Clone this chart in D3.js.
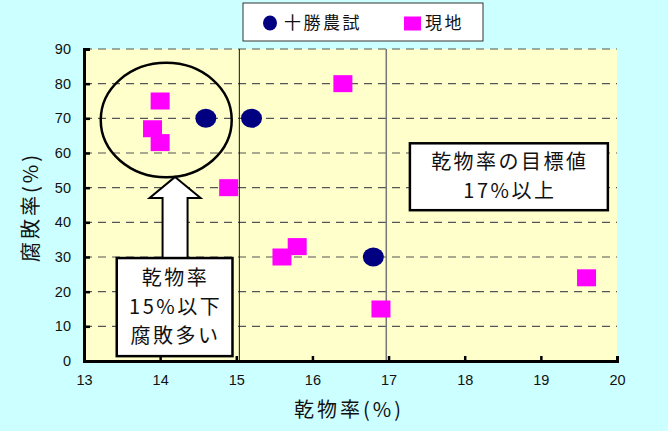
<!DOCTYPE html>
<html>
<head>
<meta charset="utf-8">
<script src="https://cdn.jsdelivr.net/npm/d3@7"></script>
<style>
  body { margin: 0; background: #ccffff; }
  svg { display: block; }
  text { font-family: "Liberation Sans", Arial, sans-serif; fill: #111; }
  .jp { font-family: "Noto Sans CJK JP", sans-serif; }
</style>
</head>
<body>
<svg id="chart" width="668" height="431"></svg>
<script>
const WIDTH = 668, HEIGHT = 431;

// series
const tokachiX = [14.6, 15.2, 16.8];
const tokachiY = [70, 70, 30];
const genchiX = [14.0, 13.9, 14.0, 14.9, 16.4, 15.8, 15.6, 16.9, 19.6];
const genchiY = [75, 67, 63, 50, 80, 33, 30, 15, 24];

const seriesNames = ["十勝農試", "現地"];
const xTicks = [13, 14, 15, 16, 17, 18, 19, 20];
const yTicks = [0, 10, 20, 30, 40, 50, 60, 70, 80, 90];
const refLines = [15.04, 16.97];

const svg = d3.select("#chart");

const x = d3.scaleLinear().domain([13, 20]).range([84, 617]);
const y = d3.scaleLinear().domain([0, 90]).range([361, 49]);

svg.append("rect").attr("width", WIDTH).attr("height", HEIGHT).attr("fill", "#ccffff");

// plot area
svg.append("rect")
  .attr("x", x(13)).attr("y", y(90))
  .attr("width", x(20) - x(13)).attr("height", y(0) - y(90))
  .attr("fill", "#ffffcc");

// dashed grid
svg.append("g").selectAll("line")
  .data(yTicks.filter(d => d > 0))
  .join("line")
  .attr("x1", x(13)).attr("x2", x(20))
  .attr("y1", d => y(d)).attr("y2", d => y(d))
  .attr("stroke", "#555").attr("stroke-width", 1.2)
  .attr("stroke-dasharray", "8,6");

// reference lines (15% and 17%)
svg.append("g").selectAll("line")
  .data(refLines)
  .join("line")
  .attr("x1", d => x(d)).attr("x2", d => x(d))
  .attr("y1", y(90)).attr("y2", y(0))
  .attr("stroke", (d, i) => i === 0 ? "#111" : "#777")
  .attr("stroke-width", (d, i) => i === 0 ? 1 : 1.5);

// ellipse around the low dry-matter group
svg.append("ellipse")
  .attr("cx", x(14.08)).attr("cy", y(69.5))
  .attr("rx", x(14.94) - x(14.08)).attr("ry", y(53) - y(69.5))
  .attr("fill", "none").attr("stroke", "#000").attr("stroke-width", 2.5);

// points: 現地 squares
const genchi = genchiX.map((v, i) => ({ x: v, y: genchiY[i] }));
svg.append("g").selectAll("rect")
  .data(genchi)
  .join("rect")
  .attr("x", d => x(d.x) - 9.5).attr("y", d => y(d.y) - 8.5)
  .attr("width", 19).attr("height", 17)
  .attr("fill", "#ff00ff");

// points: 十勝農試 circles
const tokachi = tokachiX.map((v, i) => ({ x: v, y: tokachiY[i] }));
svg.append("g").selectAll("ellipse")
  .data(tokachi)
  .join("ellipse")
  .attr("cx", d => x(d.x)).attr("cy", d => y(d.y))
  .attr("rx", 10.5).attr("ry", 9.5)
  .attr("fill", "#000080");

// arrow from box up to ellipse
const ax = x(14.196), tipY = y(53.1), baseY = y(29.7);
svg.append("path")
  .attr("d", `M${ax},${tipY} L${ax + 25.5},${tipY + 21} L${ax + 12.5},${tipY + 21} L${ax + 12.5},${baseY}
             L${ax - 12.5},${baseY} L${ax - 12.5},${tipY + 21} L${ax - 25.5},${tipY + 21} Z`)
  .attr("fill", "#fff").attr("stroke", "#000").attr("stroke-width", 2);

// annotation boxes
const notes = [
  { x0: 13.43, x1: 14.95, y0: 29.7, y1: 1.4, lines: ["乾物率", "15%以下", "腐敗多い"] },
  { x0: 17.28, x1: 19.88, y0: 62.8, y1: 43.5, lines: ["乾物率の目標値", "17%以上"] }
];
notes.forEach(n => {
  const g = svg.append("g");
  g.append("rect")
    .attr("x", x(n.x0)).attr("y", y(n.y0))
    .attr("width", x(n.x1) - x(n.x0)).attr("height", y(n.y1) - y(n.y0))
    .attr("fill", "#fff").attr("stroke", "#000").attr("stroke-width", 2.5);
  const cx = (x(n.x0) + x(n.x1)) / 2;
  const cy = (y(n.y0) + y(n.y1)) / 2;
  const lh = 29;
  n.lines.forEach((t, i) => {
    g.append("text").attr("class", "jp")
      .attr("x", cx + 1).attr("y", cy + (i - (n.lines.length - 1) / 2) * lh)
      .attr("dy", "0.36em")
      .attr("text-anchor", "middle")
      .attr("font-size", 20).attr("letter-spacing", 2.5)
      .text(t);
  });
});

// axes
const xAxis = svg.append("g")
  .attr("transform", `translate(0,${y(0)})`)
  .call(d3.axisBottom(x).tickValues(xTicks).tickSize(-5).tickPadding(14).tickFormat(d3.format("d")));
const yAxis = svg.append("g")
  .attr("transform", `translate(${x(13)},0)`)
  .call(d3.axisLeft(y).tickValues(yTicks).tickSize(-6).tickPadding(13).tickFormat(d3.format("d")));

[xAxis, yAxis].forEach(a => {
  a.select(".domain").attr("stroke", "#000").attr("stroke-width", 3);
  a.selectAll(".tick line").attr("stroke", "#000").attr("stroke-width", 2.5);
  a.selectAll(".tick text").attr("font-size", 14.5).attr("fill", "#111")
    .attr("font-family", "'Liberation Sans', Arial, sans-serif");
});

// axis titles
svg.append("text").attr("class", "jp")
  .attr("x", 349).attr("y", 417)
  .attr("text-anchor", "middle").attr("font-size", 20).attr("letter-spacing", 3)
  .text("乾物率(%)");
svg.append("text").attr("class", "jp")
  .attr("transform", "translate(38,207) rotate(-90)")
  .attr("text-anchor", "middle").attr("font-size", 20).attr("letter-spacing", 3)
  .text("腐敗率(%)");

// legend
const legend = svg.append("g");
legend.append("rect")
  .attr("x", 243).attr("y", 3).attr("width", 240).attr("height", 38)
  .attr("fill", "#fff").attr("stroke", "#333").attr("stroke-width", 1);
legend.append("ellipse")
  .attr("cx", 270).attr("cy", 23).attr("rx", 7).attr("ry", 7.5).attr("fill", "#000080");
legend.append("text").attr("class", "jp")
  .attr("x", 284).attr("y", 23).attr("dy", "0.36em")
  .attr("font-size", 17).attr("letter-spacing", 2.5).text(seriesNames[0]);
legend.append("rect")
  .attr("x", 404).attr("y", 16.5).attr("width", 17).attr("height", 14).attr("fill", "#ff00ff");
legend.append("text").attr("class", "jp")
  .attr("x", 425).attr("y", 23).attr("dy", "0.36em")
  .attr("font-size", 17).attr("letter-spacing", 2.5).text(seriesNames[1]);
</script>
</body>
</html>
